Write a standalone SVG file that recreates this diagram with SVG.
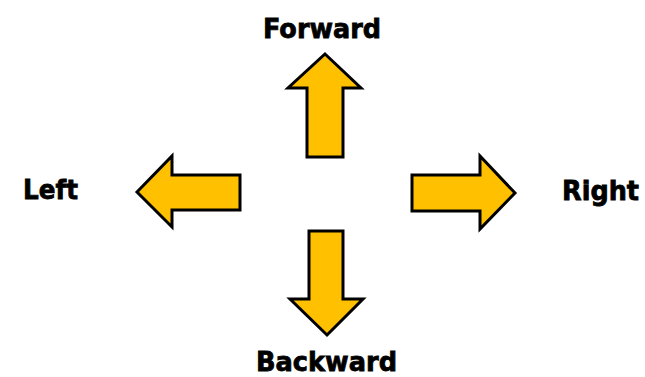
<svg xmlns="http://www.w3.org/2000/svg" width="645" height="377" viewBox="0 0 645 377">
<style>
.arrow{fill:#FFC000;stroke:#000;stroke-width:3;stroke-linejoin:miter}
.lbl{font-family:"DejaVu Sans","Liberation Sans",sans-serif;font-weight:bold;font-size:27px;fill:#000;stroke:#000;stroke-width:0.8}
</style>
<rect width="645" height="377" fill="#fff"/>
<g id="forward">
<polygon class="arrow" points="325,54 361,88 343,88 343,157 307,157 307,88 288,88"/>
<text class="lbl" x="263" y="38" textLength="118" lengthAdjust="spacingAndGlyphs">Forward</text>
</g>
<g id="left">
<polygon class="arrow" points="137,192 172,156 172,175 240,175 240,210 172,210 172,227"/>
<text class="lbl" x="23" y="199" textLength="55" lengthAdjust="spacingAndGlyphs">Left</text>
</g>
<g id="right">
<polygon class="arrow" points="515,193 480,156 480,175 412,175 412,211 480,211 480,229"/>
<text class="lbl" x="562" y="200" textLength="77" lengthAdjust="spacingAndGlyphs">Right</text>
</g>
<g id="backward">
<polygon class="arrow" points="327,335 363,299 343,299 343,231 309,231 309,299 290,299"/>
<text class="lbl" x="256" y="371" textLength="141" lengthAdjust="spacingAndGlyphs">Backward</text>
</g>
<g id="connectors"/>
</svg>
